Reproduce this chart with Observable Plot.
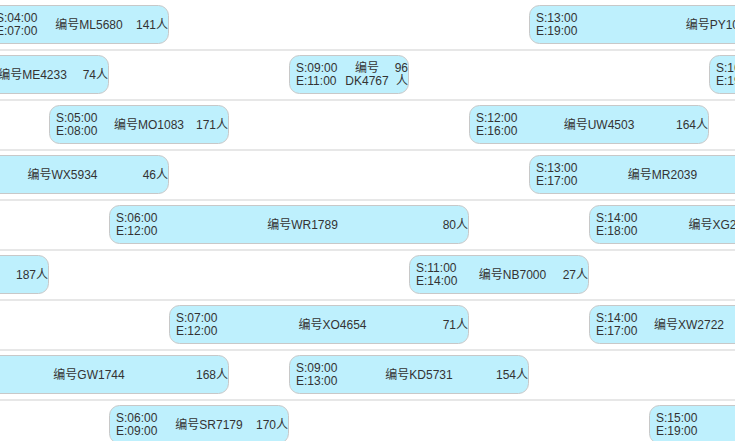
<!DOCTYPE html>
<html>
<head>
<meta charset="utf-8">
<script src="https://cdn.jsdelivr.net/npm/d3@7"></script>
<script src="https://cdn.jsdelivr.net/npm/@observablehq/plot@0.6"></script>
<style>
  html, body { margin: 0; padding: 0; background: #fff; overflow: hidden; }
  #chart { width: 735px; height: 441px; overflow: hidden; }
</style>
</head>
<body>
<div id="chart"></div>
<script>
// ---- data ----
const rowCount = 9;
const barRow   = [0, 0, 1, 1, 1, 2, 2, 3, 3, 4, 4, 5, 5, 6, 6, 7, 7, 8, 8];
const barCode  = ["ML5680", "PY1062", "ME4233", "DK4767", "QK8821", "MO1083", "UW4503", "WX5934", "MR2039",
                  "WR1789", "XG2518", "HB6604", "NB7000", "XO4654", "XW2722", "GW1744", "KD5731", "SR7179", "LT3306"];
const barStart = ["04:00", "13:00", "03:00", "09:00", "16:00", "05:00", "12:00", "03:00", "13:00",
                  "06:00", "14:00", "01:00", "11:00", "07:00", "14:00", "03:00", "09:00", "06:00", "15:00"];
const barEnd   = ["07:00", "19:00", "06:00", "11:00", "19:00", "08:00", "16:00", "07:00", "17:00",
                  "12:00", "18:00", "05:00", "14:00", "12:00", "17:00", "08:00", "13:00", "09:00", "19:00"];
const barCount = [141, 128, 74, 96, 132, 171, 164, 46, 58,
                  80, 65, 187, 27, 71, 112, 168, 154, 170, 95];

const hrs = t => { const [h, m] = t.split(":").map(Number); return h + m / 60; };
const bars = barCode.map((c, i) => ({
  row: barRow[i], code: c, s: barStart[i], e: barEnd[i],
  start: hrs(barStart[i]), end: hrs(barEnd[i]), count: barCount[i]
}));
const wide = d => d.end - d.start >= 2.5;
const rows = d3.range(rowCount);

const font = "'Liberation Sans', Arial, 'Noto Sans CJK SC', sans-serif";
const txt = "#333";
const common = {y: d => d.row + 0.5, fill: txt, fontSize: 12, lineHeight: 1.08, dy: -1, clip: true};

const chart = Plot.plot({
  width: 735,
  height: 441,
  marginTop: 0, marginRight: 0, marginBottom: 0, marginLeft: 0,
  style: {fontFamily: font, fontSize: "12px", background: "#fff", color: txt},
  x: {domain: [0, 24], range: [-250.5, 1189.5], axis: null},
  y: {domain: [0, 8.82], range: [0, 441], axis: null},
  marks: [
    Plot.ruleY(rows, {y: d => d + 1, dy: -0.5, stroke: "#cfcfcf", strokeWidth: 1, clip: true}),
    Plot.rect(bars, {
      x1: "start", x2: "end", y1: "row", y2: d => d.row + 1,
      insetTop: 5.5, insetBottom: 6.5, insetLeft: 0, insetRight: 1,
      rx: 10, fill: "#bef0fd", stroke: "#c8c8c8", strokeWidth: 1, clip: true
    }),
    Plot.text(bars, {...common, x: "start", dx: 6, textAnchor: "start",
      text: d => `S:${d.s}\nE:${d.e}`}),
    Plot.text(bars.filter(d => wide(d) && d.count >= 100), {...common, x: d => (d.start + d.end) / 2, dx: 9,
      textAnchor: "middle", text: d => "编号" + d.code}),
    Plot.text(bars.filter(d => wide(d) && d.count < 100), {...common, x: d => (d.start + d.end) / 2, dx: 12.5,
      textAnchor: "middle", text: d => "编号" + d.code}),
    Plot.text(bars.filter(d => !wide(d)), {...common, x: d => (d.start + d.end) / 2, dx: 17,
      textAnchor: "middle", text: d => "编号\n" + d.code}),
    Plot.text(bars, {...common, x: "end", dx: -2, textAnchor: "end",
      text: d => wide(d) ? `${d.count}人` : `${d.count}\n人`})
  ]
});
document.getElementById("chart").appendChild(chart);
</script>
</body>
</html>
